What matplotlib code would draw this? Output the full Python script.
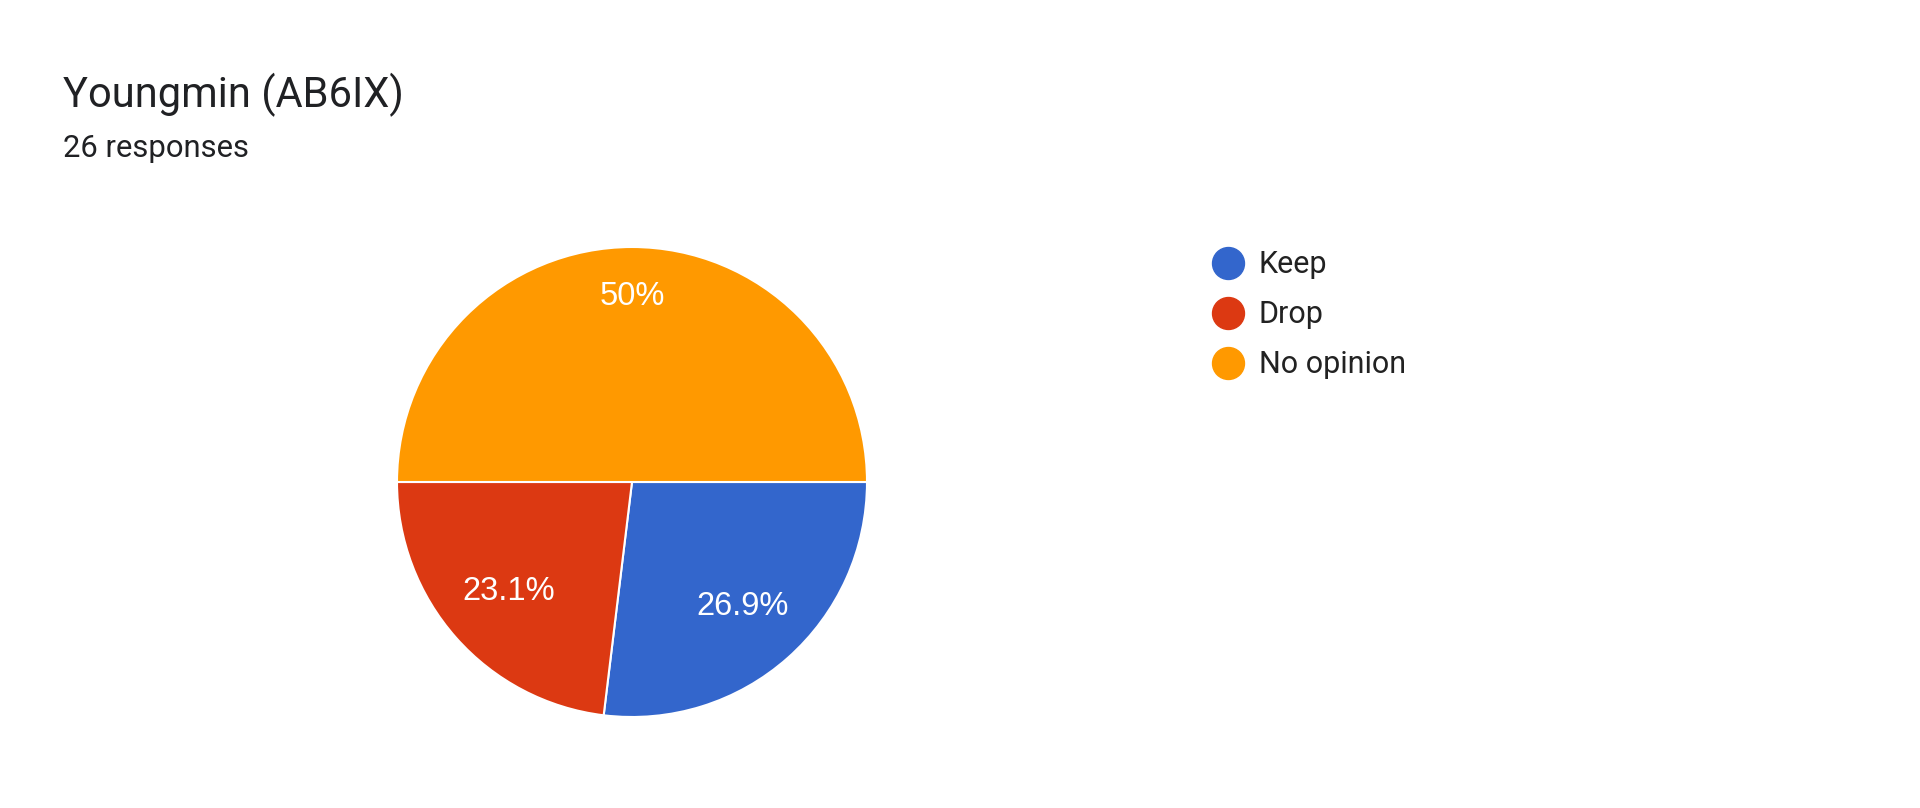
import numpy as np
import matplotlib.pyplot as plt
from matplotlib.lines import Line2D

# data
title = 'Youngmin (AB6IX)'
subtitle = '26 responses'
labels = ['Keep', 'Drop', 'No opinion']
counts = [7, 6, 13]
colors = ['#3366cc', '#dc3912', '#ff9900']

W, H = 1920, 808
fig = plt.figure(figsize=(W / 100, H / 100), dpi=100)
fig.patch.set_facecolor('white')

fig.text(63 / W, 1 - 107 / H, title, fontsize=30, color='#202124',
         family='Roboto', va='baseline')
fig.text(63 / W, 1 - 157 / H, subtitle, fontsize=22.3, color='#202124',
         family='Roboto', va='baseline')

# pie box: left 397, top 247, size 470
ax = fig.add_axes([397 / W, (H - 717) / H, 470 / W, 470 / H])
total = sum(counts)
pcts = [c / total * 100 for c in counts]
pct_txt = [f'{p:.1f}'.rstrip('0').rstrip('.') + '%' for p in pcts]

wedges, texts = ax.pie(counts, colors=colors, startangle=0, counterclock=False,
                       radius=1, wedgeprops=dict(edgecolor='white', linewidth=1.5))
ax.set_xlim(-1, 1)
ax.set_ylim(-1, 1)
ax.set_aspect('equal')
ax.axis('off')

label_dist = [0.71, 0.70, 0.79]
for w, t, d in zip(wedges, pct_txt, label_dist):
    mid = np.deg2rad((w.theta1 + w.theta2) / 2)
    ax.text(d * np.cos(mid), d * np.sin(mid), t, ha='center', va='center',
            color='white', fontsize=23.5, family='Liberation Sans')

handles = [Line2D([], [], marker='o', linestyle='none', markersize=23,
                  markerfacecolor=c, markeredgecolor=c) for c in colors]
fig.legend(handles, labels, loc='upper left', bbox_to_anchor=(1194 / W, 1 - 235 / H),
           frameon=False, prop=dict(family='Roboto', size=22), labelcolor='#222222',
           handletextpad=0.42, labelspacing=0.69, borderpad=0, handlelength=1.2)

fig.savefig('out.png', dpi=100, facecolor='white')
